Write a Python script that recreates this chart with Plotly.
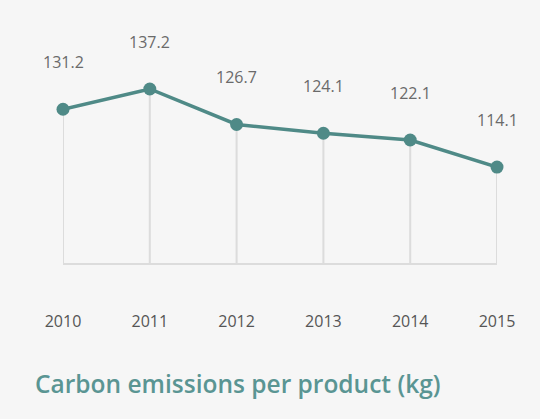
import plotly.graph_objects as go

years = [2010, 2011, 2012, 2013, 2014, 2015]
emissions = [131.2, 137.2, 126.7, 124.1, 122.1, 114.1]
value_labels = ["131.2", "137.2", "126.7", "124.1", "122.1", "114.1"]
title_text = "Carbon emissions per product (kg)"

teal = "#4f8a87"
title_teal = "#5a9593"
grey_line = "#dcdcdc"
bg = "#f6f6f6"
y_base = 85.7

# drop lines from the baseline up to each point
drop_x, drop_y = [], []
for x, y in zip(years, emissions):
    drop_x += [x, x, None]
    drop_y += [y_base, y, None]

fig = go.Figure()
fig.add_trace(go.Scatter(
    x=drop_x, y=drop_y, mode="lines",
    line=dict(color=grey_line, width=2),
    hoverinfo="skip", cliponaxis=False,
))
fig.add_trace(go.Scatter(
    x=years, y=emissions, mode="lines+markers",
    line=dict(color=teal, width=3.5),
    marker=dict(color=teal, size=13),
    cliponaxis=False,
))

for x, y, t in zip(years, emissions, value_labels):
    fig.add_annotation(x=x, y=y, text=t, showarrow=False, yshift=47,
                       font=dict(size=16, color="#6a6a6a"))

fig.add_annotation(xref="paper", yref="paper", x=-0.068, y=-0.69,
                   xanchor="left", yanchor="middle", text=title_text,
                   showarrow=False,
                   font=dict(size=24.5, color=title_teal, weight=600))

fig.update_layout(
    width=540, height=419,
    margin=dict(l=63, r=43, t=89, b=156),
    paper_bgcolor=bg, plot_bgcolor=bg,
    showlegend=False,
    font=dict(family="Open Sans, sans-serif"),
    xaxis=dict(range=[2010, 2015], tickvals=years, ticktext=[str(y) for y in years],
               showgrid=False, zeroline=False, showline=True, linecolor=grey_line,
               linewidth=2, ticks="", ticklabelstandoff=43,
               tickfont=dict(size=16, color="#555555")),
    yaxis=dict(range=[y_base, 137.2], visible=False),
)

# drop the default page margin so the chart fills the window
fig.write_html("out.html", config={"displayModeBar": False}, post_script=(
    "document.body.style.margin='0';"
    "document.body.style.background='" + bg + "';"
))
